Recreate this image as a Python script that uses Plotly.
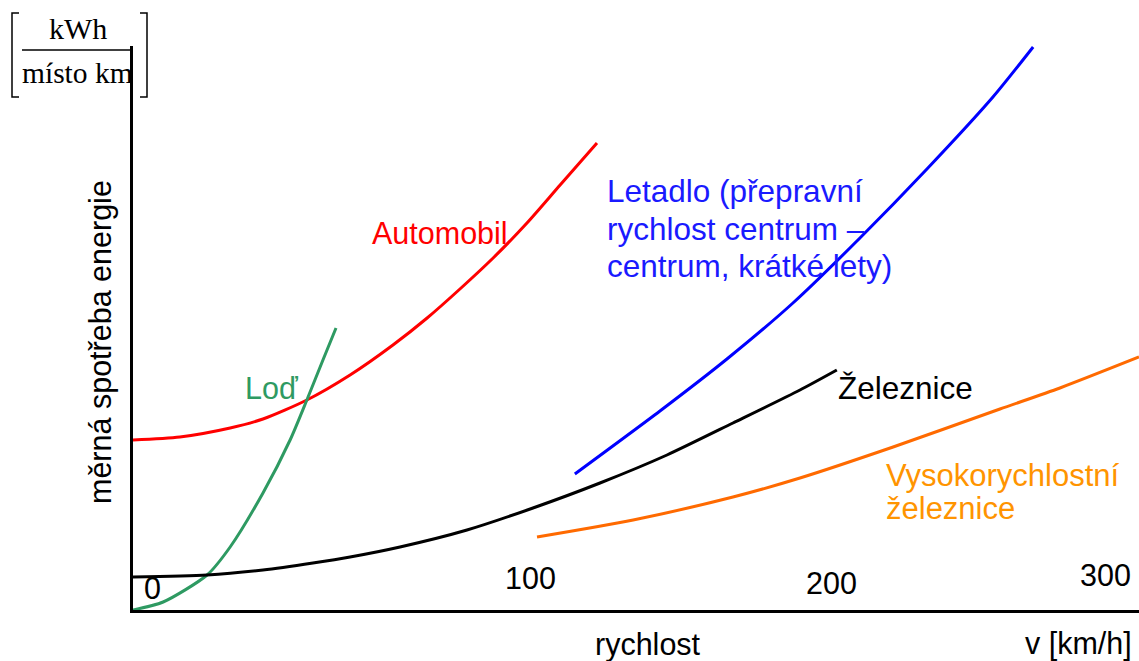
import plotly.graph_objects as go

# ---- data (speed in km/h-like units, specific energy in arbitrary units) ----
auto_x = [0, 14.0, 29.0, 38.8, 51.9, 64.8, 77.6, 87.8, 97.6, 107.5, 117.6, 127.5, 138.5]
auto_y = [1.70, 1.73, 1.82, 1.91, 2.10, 2.35, 2.65, 2.92, 3.21, 3.52, 3.87, 4.25, 4.67]

lod_x = [0, 9.0, 22.1, 29.0, 38.8, 46.9, 51.9, 56.7, 60.6]
lod_y = [0, 0.08, 0.35, 0.63, 1.17, 1.70, 2.10, 2.50, 2.82]

zel_x = [0, 22.1, 38.8, 53.7, 64.8, 79.7, 99.7, 119.4, 139.4, 159.4, 179.1, 199.1, 210.1]
zel_y = [0.33, 0.35, 0.40, 0.47, 0.53, 0.63, 0.80, 1.02, 1.27, 1.55, 1.87, 2.20, 2.40]

let_x = [131.9, 157.3, 177.3, 197.0, 217.0, 237.0, 256.7, 268.7]
let_y = [1.36, 1.99, 2.51, 3.07, 3.72, 4.41, 5.13, 5.63]

vrt_x = [120.6, 149.3, 179.1, 199.1, 226.9, 258.8, 276.7, 300.3]
vrt_y = [0.73, 0.90, 1.13, 1.32, 1.63, 2.01, 2.22, 2.53]

tick_labels = ["0", "100", "200", "300"]
tick_pos_x = [5.7, 118.8, 208.4, 290.4]
tick_pos_y = [0.22, 0.325, 0.27, 0.35]

# ---- layout geometry ----
W, H = 1139, 661
L, R, T, B = 133, 0, 46, 51
PW, PH = W - L - R, H - T - B


def pxx(x):
    return (x - L) / PW


def pxy(y):
    return (H - B - y) / PH


FONT = "Liberation Sans, Arial, sans-serif"
SERIF = "Liberation Serif, Times New Roman, serif"
FS = 30.5

fig = go.Figure()
series = [
    (auto_x, auto_y, "#FF0000", "Automobil"),
    (lod_x, lod_y, "#2E9A62", "Loď"),
    (zel_x, zel_y, "#000000", "Železnice"),
    (let_x, let_y, "#0000FF", "Letadlo"),
    (vrt_x, vrt_y, "#FF6A00", "Vysokorychlostní železnice"),
]
for xs, ys, c, n in series:
    fig.add_trace(go.Scatter(x=xs, y=ys, mode="lines", name=n,
                             line=dict(color=c, width=3, shape="spline", smoothing=0.7),
                             hoverinfo="skip"))

ann = []


def text(x, y, s, color="#000000", size=FS, xanchor="left", family=FONT, textangle=0):
    ann.append(dict(x=pxx(x), y=pxy(y), xref="paper", yref="paper", text=s,
                    showarrow=False, xanchor=xanchor, yanchor="middle",
                    font=dict(family=family, size=size, color=color),
                    textangle=textangle))


text(370, 233, "Automobil", "#FF0000")
text(243, 388, "Loď", "#2E9A62")
text(605, 191, "Letadlo (přepravní", "#1A1AFF", size=31.5)
text(605, 229, "rychlost centrum –", "#1A1AFF", size=31.5)
text(605, 266, "centrum, krátké lety)", "#1A1AFF", size=31.5)
text(836, 388, "Železnice", "#000000", size=31.5)
text(884, 475, "Vysokorychlostní", "#FF9400", size=31)
text(884, 508, "železnice", "#FF9400", size=31)
text(648, 644, "rychlost", "#000000", xanchor="center")
text(1078, 643, "v [km/h]", "#000000", xanchor="center")
text(100, 342, "měrná spotřeba energie", "#000000", xanchor="center", textangle=-90)

for lab, xv, yv in zip(tick_labels, tick_pos_x, tick_pos_y):
    ann.append(dict(x=xv, y=yv, xref="x", yref="y", text=lab, showarrow=False,
                    xanchor="center", yanchor="middle",
                    font=dict(family=FONT, size=FS, color="#000000")))

# unit fraction
text(78, 28, "kWh", "#000000", size=30, xanchor="center", family=SERIF)
text(77, 73, "místo km", "#000000", size=29.5, xanchor="center", family=SERIF)

shapes = [
    dict(type="line", xref="paper", yref="paper", x0=pxx(22), x1=pxx(133), y0=pxy(50), y1=pxy(50),
         line=dict(color="#000000", width=1.5)),
    dict(type="path", xref="paper", yref="paper",
         path=f"M {pxx(19)} {pxy(13)} L {pxx(12)} {pxy(13)} L {pxx(12)} {pxy(97)} L {pxx(19)} {pxy(97)}",
         line=dict(color="#000000", width=1.5)),
    dict(type="path", xref="paper", yref="paper",
         path=f"M {pxx(140)} {pxy(13)} L {pxx(147)} {pxy(13)} L {pxx(147)} {pxy(97)} L {pxx(140)} {pxy(97)}",
         line=dict(color="#000000", width=1.5)),
]

fig.update_layout(
    width=W, height=H,
    margin=dict(l=L, r=R, t=T, b=B, pad=0),
    paper_bgcolor="white", plot_bgcolor="white",
    showlegend=False,
    annotations=ann, shapes=shapes,
    xaxis=dict(range=[0, PW / 3.35], showgrid=False, zeroline=False, showticklabels=False,
               ticks="", showline=True, linecolor="#000000", linewidth=3, fixedrange=True),
    yaxis=dict(range=[0, PH / 100], showgrid=False, zeroline=False, showticklabels=False,
               ticks="", showline=True, linecolor="#000000", linewidth=3, fixedrange=True),
)

fig.write_html("out.html", config={"displayModeBar": False},
               post_script="document.body.style.margin='0';document.body.style.padding='0';document.body.style.overflow='hidden';")
